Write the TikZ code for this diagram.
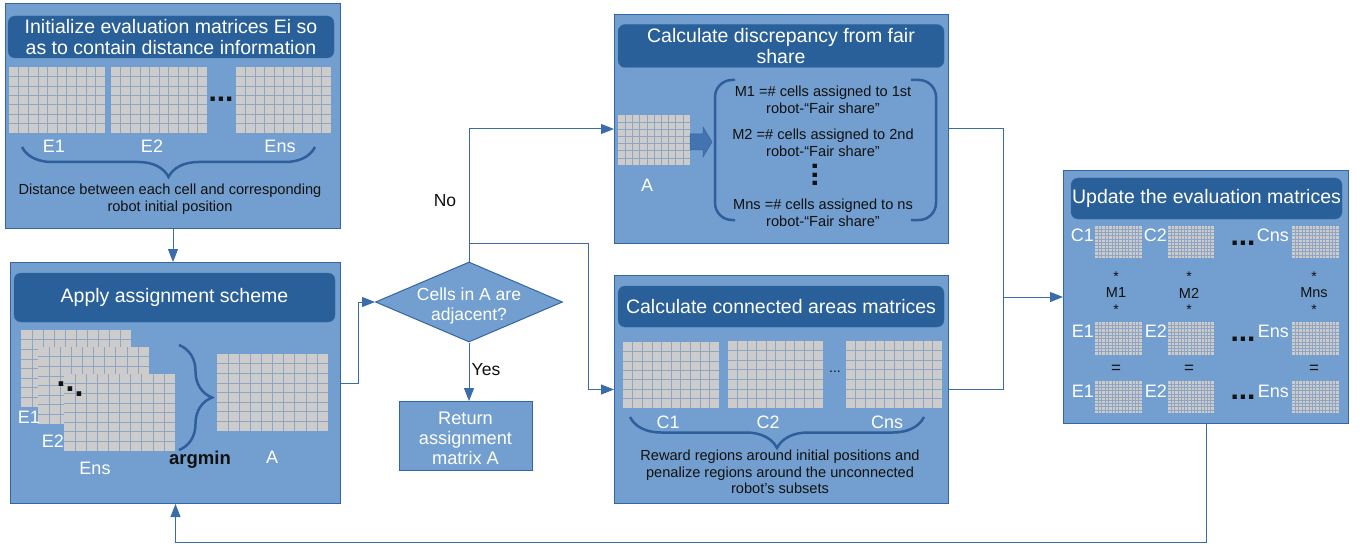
\documentclass[tikz,border=0pt]{standalone}
\usepackage{fontspec}
\setmainfont{Liberation Sans}
\usetikzlibrary{arrows.meta,shapes.geometric,decorations.pathreplacing,calc}
\definecolor{boxfill}{HTML}{729FCF}
\definecolor{boxdraw}{HTML}{3465A4}
\definecolor{titlefill}{HTML}{2A6099}
\definecolor{gridfill}{HTML}{CCCCCC}
\definecolor{gridline}{HTML}{8FA5C2}
\definecolor{bracecol}{HTML}{2E5E9C}
\definecolor{linecol}{HTML}{3A6BAA}
\definecolor{txt}{HTML}{111111}
\tikzset{
  bigbox/.style={draw=boxdraw, fill=boxfill, line width=1pt, anchor=north west, inner sep=0pt},
  titlebar/.style={fill=titlefill, draw=titlefill!80!boxfill, rounded corners=7pt, text=white, align=center, inner sep=0pt, font=\fontsize{19.5}{21.5}\selectfont},
  wlabel/.style={text=white, inner sep=0pt, font=\fontsize{18}{20}\selectfont},
  blabel/.style={text=txt, inner sep=0pt, align=center, font=\fontsize{14.6}{16.5}\selectfont},
  dots/.style={text=txt, inner sep=0pt, font=\fontsize{30}{30}\selectfont\bfseries},
  gridline/.style={draw=gridline, line width=0.6pt},
  mybrace/.style={draw=bracecol, line width=2.5pt, decorate, decoration={brace, amplitude=#1}},
  conn/.style={draw=linecol, line width=1pt, -{Triangle[length=13pt,width=10pt]}},
  plain/.style={draw=linecol, line width=1pt},
}
\newcommand\gridmat[6]{%
  \fill[gridfill] (#1,#2) rectangle (#3,#4);
  \pgfmathsetmacro\gmdx{(#3-#1)/#5}%
  \pgfmathsetmacro\gmdy{(#4-#2)/#6}%
  \pgfmathtruncatemacro\gmnc{#5-1}%
  \pgfmathtruncatemacro\gmnr{#6-1}%
  \foreach \k in {1,...,\gmnc} \draw[gridline] ({#1+\k*\gmdx},#2) -- ({#1+\k*\gmdx},#4);
  \foreach \k in {1,...,\gmnr} \draw[gridline] (#1,{#2+\k*\gmdy}) -- (#3,{#2+\k*\gmdy});
}
\begin{document}
\begin{tikzpicture}[x=1pt,y=-1pt]
\useasboundingbox (0,0) rectangle (1364,548);
\fill[white] (0,0) rectangle (1364,548);

% ---------------- Box 1: initialize
\node[bigbox, minimum width=335pt, minimum height=225pt] (init) at (5,3) {};
\node[titlebar, minimum width=326pt, minimum height=42pt] (initT) at (171,37) {Initialize evaluation matrices Ei so\\as to contain distance information};
\gridmat{9}{67}{105}{133}{10}{7}
\gridmat{111}{67}{207}{133}{10}{7}
\gridmat{236}{67}{331}{133}{10}{7}
\node[dots] (initD) at (221,99) {...};
\node[wlabel] (initE1) at (54,146) {E1};
\node[wlabel] (initE2) at (152,146) {E2};
\node[wlabel] (initEn) at (280,146) {Ens};
\draw[mybrace=30pt, decoration={mirror}] (22,147) -- (315,147);
\node[blabel] (initTxt) at (170,199) {Distance between each cell and corresponding\\robot initial position};

% ---------------- Box 2: apply
\node[bigbox, minimum width=330pt, minimum height=241pt] (apply) at (10,262) {};
\node[titlebar, minimum width=321pt, minimum height=49pt] (applyT) at (174.5,297.5) {Apply assignment scheme};
\gridmat{21}{330}{131}{407}{10}{8}
\gridmat{38}{347}{149}{424}{10}{8}
\gridmat{64}{374}{175}{451}{10}{8}
\node[dots, font=\fontsize{32}{32}\selectfont\bfseries] (applyDa) at (61,384.5) {.};
\node[dots, font=\fontsize{32}{32}\selectfont\bfseries] (applyDb) at (70,389.5) {.};
\node[dots, font=\fontsize{32}{32}\selectfont\bfseries] (applyDc) at (79,394.5) {.};
\node[wlabel] (applyE1) at (29,417) {E1};
\node[wlabel] (applyE2) at (53,441) {E2};
\node[wlabel] (applyEn) at (95,468) {Ens};
\draw[mybrace=33pt] (179,345) -- (179,450);
\node[text=txt, inner sep=0pt, font=\fontsize{18.5}{20}\selectfont\bfseries] (argmin) at (200,460) {argmin};
\gridmat{217}{354}{328}{431}{10}{8}
\node[wlabel] (applyA) at (272,457) {A};

% ---------------- Decision
\node[diamond, draw=boxdraw, fill=boxfill, line width=1pt, minimum width=187pt, minimum height=80pt, aspect=2.34, inner sep=0pt] (diam) at (469,302) {};
\node[text=white, align=center, inner sep=0pt, font=\fontsize{17.5}{19.5}\selectfont] (diamT) at (469,306) {Cells in A are\\adjacent?};
\node[bigbox, minimum width=133pt, minimum height=69pt] (ret) at (399,401) {};
\node[text=white, align=center, inner sep=0pt, font=\fontsize{18.2}{20}\selectfont] (retT) at (465.5,438) {Return\\assignment\\matrix A};
\node[text=txt, inner sep=0pt, font=\fontsize{17.5}{19}\selectfont] (yes) at (486,370) {Yes};
\node[text=txt, inner sep=0pt, font=\fontsize{17.5}{19}\selectfont] (no) at (445,201) {No};

% ---------------- Discrepancy
\node[bigbox, minimum width=334pt, minimum height=229pt] (disc) at (614,14) {};
\node[titlebar, minimum width=326pt, minimum height=43pt] (discT) at (781,46) {Calculate discrepancy from fair\\share};
\gridmat{618}{115}{690}{165}{10}{7}
\node[wlabel] (discA) at (647,185) {A};
\fill[fill=boxdraw!75!boxfill, draw=boxdraw, line width=0.5pt] (690,134) -- (703,134) -- (703,127) -- (712,142) -- (703,157) -- (703,150) -- (690,150) -- cycle;
\draw[bracecol, line width=2.5pt, rounded corners=17pt] (735,80) -- (715,80) -- (715,220) -- (735,220);
\draw[bracecol, line width=2.5pt, rounded corners=17pt] (911,80) -- (936,80) -- (936,220) -- (911,220);
\node[blabel] (m1) at (823,100) {M1 =\# cells assigned to 1st\\robot-“Fair share”};
\node[blabel] (m2) at (823,143) {M2 =\# cells assigned to 2nd\\robot-“Fair share”};
\node[dots, rotate=90] (discD) at (815,175) {...};
\node[blabel] (mn) at (823,213) {Mns =\# cells assigned to ns\\robot-“Fair share”};

% ---------------- Connected areas
\node[bigbox, minimum width=334pt, minimum height=228pt] (conn) at (614,275) {};
\node[titlebar, minimum width=326pt, minimum height=41pt] (connT) at (781,306.5) {Calculate connected areas matrices};
\gridmat{623}{342}{719}{408}{10}{7}
\gridmat{728}{341}{823}{408}{10}{7}
\gridmat{846}{341}{942}{408}{10}{7}
\node[text=txt, inner sep=0pt, font=\fontsize{14}{16}\selectfont] (connD) at (835,372) {...};
\node[wlabel] (connC1) at (668,422) {C1};
\node[wlabel] (connC2) at (768,422) {C2};
\node[wlabel] (connCn) at (887,422) {Cns};
\draw[mybrace=31pt, decoration={mirror}] (630,417) -- (924,417);
\node[blabel] (connTxt) at (780,472) {Reward regions around initial positions and\\penalize regions around the unconnected\\robot's subsets};

% ---------------- Update
\node[bigbox, minimum width=285pt, minimum height=253pt] (upd) at (1063,170) {};
\node[titlebar, minimum width=271pt, minimum height=41pt] (updT) at (1206.5,198.5) {Update the evaluation matrices};
\foreach \yy/\yb in {226/258, 322/355, 381/413}{
  \gridmat{1095}{\yy}{1142}{\yb}{14}{10}
  \gridmat{1168}{\yy}{1214}{\yb}{14}{10}
  \gridmat{1292}{\yy}{1339}{\yb}{14}{10}
}
\node[wlabel, anchor=east] (uC1) at (1094,235) {C1};
\node[wlabel, anchor=east] (uC2) at (1167,235) {C2};
\node[wlabel, anchor=east] (uCn) at (1289,235) {Cns};
\node[dots] (uD1) at (1243,243) {...};
\node[wlabel, anchor=east] (uE1) at (1094,331) {E1};
\node[wlabel, anchor=east] (uE2) at (1167,331) {E2};
\node[wlabel, anchor=east] (uEn) at (1289,331) {Ens};
\node[dots] (uD2) at (1243,339) {...};
\node[wlabel, anchor=east] (uF1) at (1094,391) {E1};
\node[wlabel, anchor=east] (uF2) at (1167,391) {E2};
\node[wlabel, anchor=east] (uFn) at (1289,391) {Ens};
\node[dots] (uD3) at (1243,397) {...};
\foreach \xx/\lab [count=\n] in {1116/M1, 1189/M2, 1314/Mns}{
  \node[text=txt, inner sep=0pt, font=\fontsize{14}{14}\selectfont] (us\n) at (\xx,277) {*};
  \node[text=txt, inner sep=0pt, font=\fontsize{14.5}{16}\selectfont] (um\n) at (\xx,293) {\lab};
  \node[text=txt, inner sep=0pt, font=\fontsize{14}{14}\selectfont] (ut\n) at (\xx,310) {*};
  \node[text=txt, inner sep=0pt, font=\fontsize{17}{17}\selectfont] (ue\n) at (\xx,369) {=};
}

% ---------------- Connectors
\draw[conn] (init.south) -- (init.south |- apply.north);
\draw[conn] (apply.east) -- ++(17,0) |- (diam.west);
\draw[conn] (diam.south) -- (diam.south |- ret.north);
\draw[conn] (diam.north) |- (disc.west);
\coordinate (nsplit) at ($(diam.north)+(0,-18)$);
\draw[conn] (nsplit) -| ([xshift=-26pt]conn.west) -- (conn.west);
\coordinate (merge) at (1003,297);
\draw[plain] (disc.east) -| (merge);
\draw[plain] (conn.east) -| (merge);
\draw[conn] (merge) -- (merge -| upd.west);
\draw[conn] (upd.south) -- ++(0,118) -| (apply.south);
\end{tikzpicture}
\end{document}
